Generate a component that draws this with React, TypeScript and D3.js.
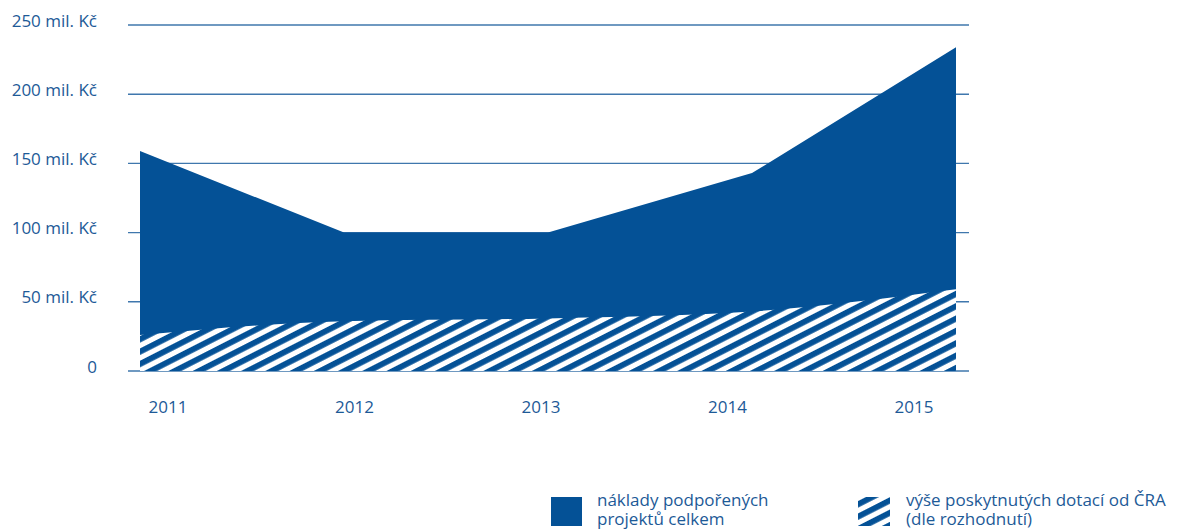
import React from "react";
import * as d3 from "d3";

const years = ["2011", "2012", "2013", "2014", "2015"];
const totalCosts = [159, 100, 100, 143, 234];
const subsidies = [26, 36, 38, 43, 59];
const yTicks = [0, 50, 100, 150, 200, 250];
const yTickLabels = ["0", "50 mil. Kč", "100 mil. Kč", "150 mil. Kč", "200 mil. Kč", "250 mil. Kč"];
const legendLabels = [
  ["náklady podpořených", "projektů celkem"],
  ["výše poskytnutých dotací od ČRA", "(dle rozhodnutí)"],
];

const BLUE = "#045196";
const TEXT = "#1d5a97";
const GRID = "#3f77ad";
const FONT = "'Open Sans', 'Noto Sans', sans-serif";
const FS = 17;

export default function App() {
  const W = 1181;
  const H = 530;
  const y = d3.scaleLinear().domain([0, 250]).range([371, 25]);
  const x = d3.scalePoint<string>().domain(years).range([140, 956]);
  const xLabel = d3.scalePoint<string>().domain(years).range([168, 914]);

  const areaTotal = d3
    .area<number>()
    .x((_, i) => x(years[i])!)
    .y0(y(0))
    .y1((d) => y(d))
    .curve(d3.curveLinear);
  const areaSub = d3
    .area<number>()
    .x((_, i) => x(years[i])!)
    .y0(y(0))
    .y1((d) => y(d))
    .curve(d3.curveMonotoneX);

  return (
    <svg width={W} height={H} style={{ position: "absolute", left: 0, top: 0 }} fontFamily={FONT}>
      <defs>
        <pattern id="hatch" patternUnits="userSpaceOnUse" width="11" height="11" patternTransform="rotate(-27)">
          <rect x="0" y="0" width="11" height="11" fill="#fff" />
          <rect x="0" y="0" width="11" height="5.8" fill={BLUE} />
        </pattern>
      </defs>
      {yTicks.map((t, i) => (
        <g key={t}>
          <line x1={128} x2={969} y1={y(t)} y2={y(t)} stroke={GRID} strokeWidth={1.4} />
          <text x={97} y={y(t) - 3} textAnchor="end" dominantBaseline="middle" fontSize={FS} fill={TEXT}>
            {yTickLabels[i]}
          </text>
        </g>
      ))}
      <path d={areaTotal(totalCosts)!} fill={BLUE} />
      <path d={areaSub(subsidies)!} fill="url(#hatch)" />
      {years.map((yr) => (
        <text key={yr} x={xLabel(yr)} y={408} textAnchor="middle" dominantBaseline="middle" fontSize={FS} fill={TEXT}>
          {yr}
        </text>
      ))}
      <rect x={551} y={497} width={31} height={29} fill={BLUE} />
      <text fontSize={FS} fill={TEXT}>
        <tspan x={597} y={501} dominantBaseline="middle">{legendLabels[0][0]}</tspan>
        <tspan x={597} y={520} dominantBaseline="middle">{legendLabels[0][1]}</tspan>
      </text>
      <rect x={858} y={497} width={32} height={29} fill="url(#hatch)" />
      <text fontSize={FS} fill={TEXT}>
        <tspan x={906} y={501} dominantBaseline="middle">{legendLabels[1][0]}</tspan>
        <tspan x={906} y={520} dominantBaseline="middle">{legendLabels[1][1]}</tspan>
      </text>
    </svg>
  );
}
